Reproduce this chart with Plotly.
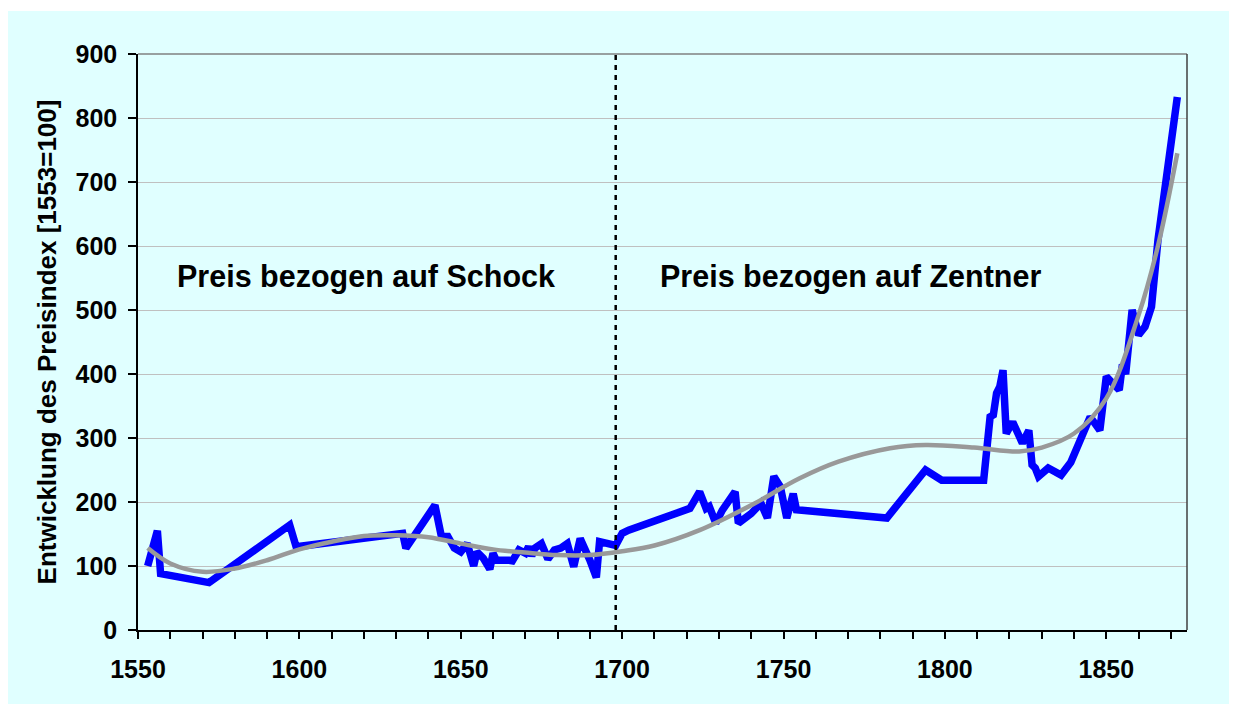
import plotly.graph_objects as go

# Blue series: price index (1553=100)
years = [1553, 1556, 1557, 1572, 1597, 1599, 1632, 1633, 1642, 1644, 1646, 1648, 1650,
         1652, 1654, 1655, 1657, 1659, 1660, 1661, 1665, 1666, 1668, 1670, 1671, 1672,
         1673, 1675, 1677, 1679, 1681, 1683, 1685, 1687, 1690, 1692, 1693, 1698, 1700,
         1702, 1721, 1724, 1726, 1727, 1729, 1731, 1735, 1736, 1740, 1743, 1745, 1747,
         1749, 1751, 1753, 1754, 1782, 1794, 1799, 1812, 1814, 1815, 1816, 1817, 1818,
         1819, 1821, 1824, 1825, 1826, 1827, 1828, 1829, 1832, 1836, 1839, 1845, 1848,
         1850, 1854, 1855, 1856, 1858, 1860, 1862, 1864, 1866, 1872]
index = [100, 155, 88, 74, 164, 130, 151, 128, 195, 146, 146, 128, 122,
         135, 100, 122, 112, 95, 120, 109, 109, 108, 125, 120, 130, 116,
         128, 135, 111, 125, 128, 135, 99, 143, 109, 82, 138, 132, 151,
         156, 190, 216, 190, 193, 167, 187, 216, 167, 182, 198, 175, 240,
         224, 175, 213, 188, 175, 250, 234, 234, 333, 336, 370, 380, 406,
         307, 325, 292, 302, 312, 258, 253, 240, 253, 242, 262, 333, 312,
         396, 375, 415, 400, 500, 461, 474, 505, 609, 833]

# Grey trend line
trend_years = [1553, 1560, 1570, 1580, 1590, 1600, 1610, 1620, 1630, 1640, 1650, 1660,
               1670, 1680, 1690, 1700, 1710, 1724, 1740, 1755, 1767, 1783, 1794, 1809,
               1823, 1830, 1840, 1850, 1860, 1866, 1872]
trend_vals = [128, 104, 91, 96, 109, 126, 138, 147, 148, 145, 135, 126,
              121, 117, 117, 123, 132, 156, 195, 237, 263, 284, 289, 285,
              279, 285, 307, 362, 492, 600, 745]

divider_year = 1698
labels = ["Preis bezogen auf Schock", "Preis bezogen auf Zentner"]
label_x = [1620.7, 1770.7]
label_y = [552, 552]

BG = "#E0FFFF"
FONT = "Liberation Sans, Arial"
fig = go.Figure()

fig.add_trace(go.Scatter(x=years, y=index, mode="lines",
                         line=dict(color="#0000FF", width=7.5), hoverinfo="skip"))
fig.add_trace(go.Scatter(x=trend_years, y=trend_vals, mode="lines",
                         line=dict(color="#999999", width=4.5, shape="spline", smoothing=1.0),
                         hoverinfo="skip"))

# background cyan area
fig.add_shape(type="rect", xref="paper", yref="paper", x0=-0.13, x1=1.06, y0=-0.14, y1=1.0747,
              fillcolor=BG, line=dict(width=0), layer="below")
# top and right border
fig.add_shape(type="line", xref="paper", yref="paper", x0=0, x1=1, y0=1, y1=1,
              line=dict(color="#808080", width=1.5))
fig.add_shape(type="line", xref="paper", yref="paper", x0=1, x1=1, y0=0, y1=1,
              line=dict(color="#404040", width=1.5))
# divider
fig.add_shape(type="line", xref="x", yref="y", x0=divider_year, x1=divider_year, y0=0, y1=900,
              line=dict(color="black", width=2.5, dash="5px,5px"))

for t, xx, yy in zip(labels, label_x, label_y):
    fig.add_annotation(x=xx, y=yy, text="<b>%s</b>" % t, showarrow=False,
                       font=dict(size=30.5, color="black", family=FONT))

fig.update_layout(
    width=1229, height=696,
    margin=dict(l=130, r=49.5, t=46, b=74, autoexpand=False),
    paper_bgcolor="white", plot_bgcolor="rgba(0,0,0,0)",
    showlegend=False,
    font=dict(family=FONT, color="black"),
)
fig.update_xaxes(range=[1550, 1875], tick0=1550, dtick=50, ticks="outside", ticklen=7,
                 tickwidth=1.5, tickcolor="black", showline=True, linecolor="black", linewidth=1.5,
                 showgrid=False, zeroline=False, ticklabelstandoff=9,
                 tickfont=dict(size=25, family=FONT, weight="bold"),
                 minor=dict(dtick=10, tick0=1550, ticks="outside", ticklen=7, tickcolor="black",
                            tickwidth=1.5, showgrid=False))
fig.update_yaxes(range=[0, 900], tick0=0, dtick=100, ticks="outside", ticklen=8,
                 tickwidth=1.5, tickcolor="black", showline=True, linecolor="black", linewidth=1.5,
                 showgrid=True, gridcolor="#C0C0C0", gridwidth=1, zeroline=False,
                 ticklabelstandoff=6,
                 tickfont=dict(size=25, family=FONT, weight="bold"),
                 title=dict(text="<b>Entwicklung des Preisindex [1553=100]</b>",
                            font=dict(size=26, family=FONT), standoff=11))

fig.write_html("out.html")
